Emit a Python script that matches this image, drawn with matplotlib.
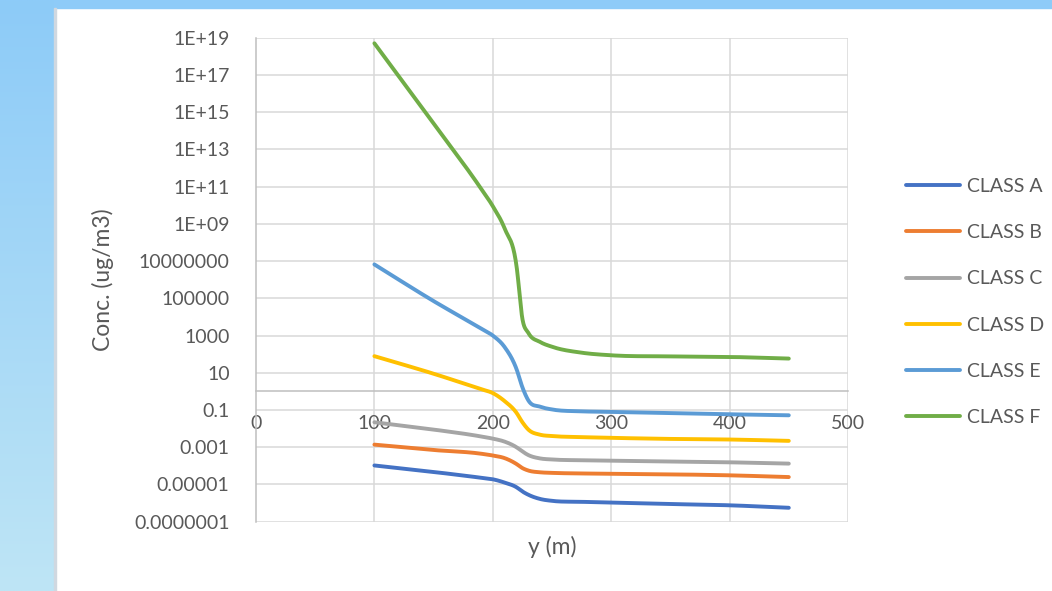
import numpy as np
import matplotlib
matplotlib.use("Agg")
import matplotlib.pyplot as plt
from matplotlib.patches import Rectangle

plt.rcParams['font.family'] = ['Lato', 'DejaVu Sans']

# distances (m) and concentrations (ug/m3) for each stability class
y_m = [100, 150, 190, 200, 210, 220, 225, 230, 240, 250, 275, 300, 350, 400, 450]

class_a = [1.05e-4, 4.7e-5, 2.3e-5, 1.9e-5, 1.26e-5, 7.1e-6, 4.2e-6, 2.8e-6, 1.66e-6, 1.32e-6, 1.17e-6, 1.07e-6, 8.9e-7, 7.6e-7, 5.6e-7]
class_b = [1.38e-3, 7.1e-4, 4.5e-4, 3.6e-4, 2.6e-4, 1.26e-4, 7.6e-5, 5.6e-5, 4.5e-5, 4.2e-5, 3.9e-5, 3.8e-5, 3.5e-5, 3.1e-5, 2.5e-5]
class_c = [2.2e-2, 8.9e-3, 3.8e-3, 2.9e-3, 2.0e-3, 1.0e-3, 5.9e-4, 3.8e-4, 2.5e-4, 2.2e-4, 2.0e-4, 1.9e-4, 1.7e-4, 1.55e-4, 1.32e-4]
class_d = [78, 8.9, 1.32, 0.81, 0.30, 0.071, 0.022, 0.0089, 0.0047, 0.0040, 0.0035, 0.0032, 0.0028, 0.0026, 0.0022]
class_e = [6.6e6, 7.1e4, 2.4e3, 1.0e3, 240, 16, 1.66, 0.33, 0.15, 0.107, 0.085, 0.079, 0.068, 0.059, 0.052]
class_f = [5.0e18, 2.5e14, 7.9e10, 8.9e9, 5.6e8, 5.6e6, 7.9e3, 1.4e3, 4.5e2, 2.5e2, 1.2e2, 87, 76, 71, 58]

names = ['CLASS A', 'CLASS B', 'CLASS C', 'CLASS D', 'CLASS E', 'CLASS F']
colores = ['#4472C4', '#ED7D31', '#A5A5A5', '#FFC000', '#5B9BD5', '#70AD47']

y_ticks = [1e19, 1e17, 1e15, 1e13, 1e11, 1e9, 1e7, 1e5, 1e3, 1e1, 1e-1, 1e-3, 1e-5, 1e-7]
y_labels = ['1E+19', '1E+17', '1E+15', '1E+13', '1E+11', '1E+09', '10000000', '100000',
            '1000', '10', '0.1', '0.001', '0.00001', '0.0000001']
x_ticks = [0, 100, 200, 300, 400, 500]


def suavizar(xs, ys, n=30):
    # linea suavizada: hermite cubico (tangentes de Bessel) sobre log10(c)
    x = np.asarray(xs, float)
    v = np.log10(ys)
    h = np.diff(x)
    d = np.diff(v) / h
    m = np.zeros_like(v)
    m[0], m[-1] = d[0], d[-1]
    for i in range(1, len(v) - 1):
        m[i] = (h[i] * d[i - 1] + h[i - 1] * d[i]) / (h[i - 1] + h[i])
    px, pv = [], []
    t = np.linspace(0, 1, n)
    h00 = 2 * t**3 - 3 * t**2 + 1
    h10 = t**3 - 2 * t**2 + t
    h01 = -2 * t**3 + 3 * t**2
    h11 = t**3 - t**2
    for i in range(len(h)):
        seg = h00 * v[i] + h10 * h[i] * m[i] + h01 * v[i + 1] + h11 * h[i] * m[i + 1]
        xx = x[i] + t * h[i]
        if i > 0:
            seg, xx = seg[1:], xx[1:]
        px.append(xx)
        pv.append(seg)
    return np.concatenate(px), 10 ** np.concatenate(pv)


W, H = 1052, 591
fig = plt.figure(figsize=(W / 100, H / 100), dpi=100)
fig.patch.set_facecolor('white')

# franja superior y lateral celeste
fig.patches.append(Rectangle((0, 1 - 8 / H), 1, 8 / H, transform=fig.transFigure,
                             color='#8ECBF8', zorder=-5))
bg = fig.add_axes([0, 0, 54 / W, 1], zorder=-4)
c_top = np.array([141, 203, 248]) / 255
c_bot = np.array([190, 229, 245]) / 255
g = np.linspace(0, 1, 200)[:, None, None]
bg.imshow(c_top * (1 - g) + c_bot * g, aspect='auto', extent=[0, 1, 0, 1])
bg.axis('off')
fig.patches.append(Rectangle((54 / W, 0), 1.5 / W, 1 - 8 / H, transform=fig.transFigure,
                             color='#D0D8E0', zorder=-3))

ax = fig.add_axes([256 / W, 1 - 521.7 / H, (848 - 256) / W, (521.7 - 37.7) / H])

series = [class_a, class_b, class_c, class_d, class_e, class_f]
for vals, nombre, col in zip(series, names, colores):
    xs, ys = suavizar(y_m, vals)
    ax.plot(xs, ys, color=col, lw=2.8, label=nombre, solid_capstyle='round', zorder=3)

ax.set_yscale('log')
ax.set_ylim(1e-7, 1e19)
ax.set_xlim(0, 500)
ax.set_yticks(y_ticks)
ax.set_yticklabels(y_labels)
ax.minorticks_off()
ax.set_xticks(x_ticks)
ax.set_xticklabels([str(v) for v in x_ticks])

for v in y_ticks:
    ax.axhline(v, color='#D9D9D9', lw=1.1, zorder=1)
for v in x_ticks[1:]:
    ax.axvline(v, color='#D9D9D9', lw=1.1, zorder=1)

for s in ['top', 'right']:
    ax.spines[s].set_visible(False)
ax.spines['left'].set_color('#BFBFBF')
ax.spines['left'].set_linewidth(1.1)
ax.spines['bottom'].set_position(('data', 1))
ax.spines['bottom'].set_color('#BFBFBF')
ax.spines['bottom'].set_linewidth(1.1)

ax.tick_params(axis='y', length=0, pad=19, labelsize=14, labelcolor='#595959')
ax.tick_params(axis='x', length=0, pad=17, labelsize=14, labelcolor='#595959')

fig.text(103 / W, 1 - 280 / H, 'Conc. (ug/m3)', rotation=90, ha='center', va='center',
         fontsize=16.5, color='#595959')
fig.text(552 / W, 1 - 547 / H, 'y (m)', ha='center', va='center',
         fontsize=16.5, color='#595959')

fig.legend(loc='center left', bbox_to_anchor=(906 / W, 1 - 302 / H), frameon=False,
           fontsize=14, labelcolor='#595959', handlelength=2.8, handletextpad=0.35,
           labelspacing=1.5, borderpad=0, borderaxespad=0)

fig.savefig('out.png', dpi=100)
